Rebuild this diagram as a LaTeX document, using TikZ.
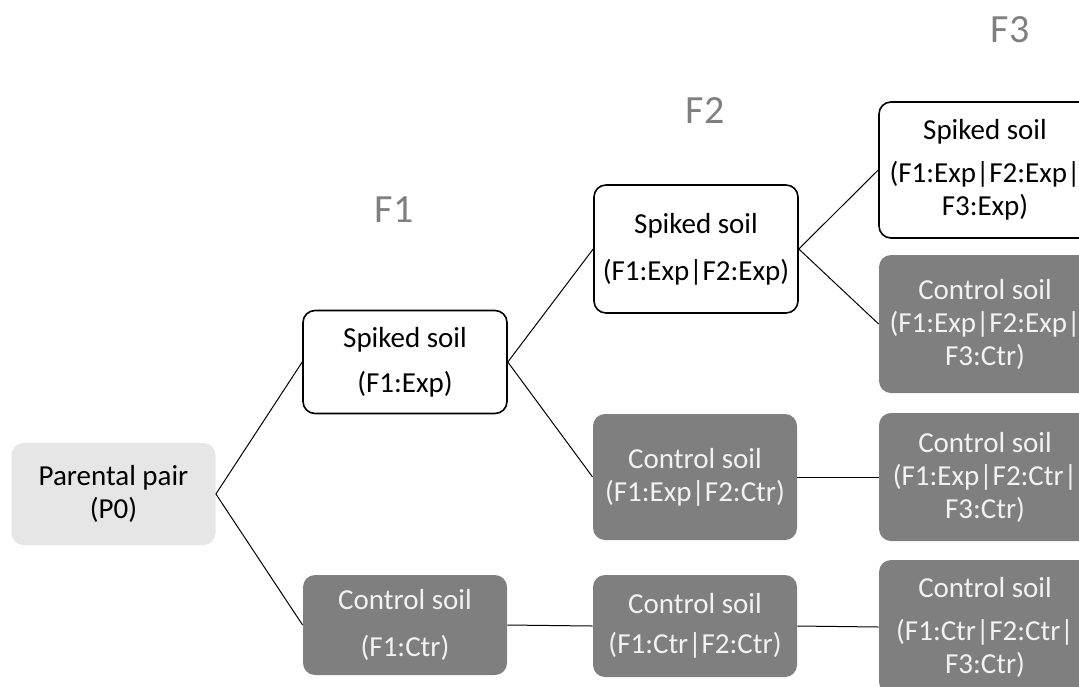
\documentclass[tikz,border=0pt]{standalone}
\usepackage{fontspec}
\setmainfont{Carlito}
\usetikzlibrary{positioning}
\definecolor{darkbox}{HTML}{7F7F7F}
\definecolor{lightbox}{HTML}{E7E6E6}
\definecolor{boxtext}{HTML}{F2F2F2}
\definecolor{gentext}{HTML}{7F7F7F}

\begin{document}
\begin{tikzpicture}[x=0.5pt,y=-0.5pt,
 soil/.style={rounded corners=6pt,align=center,minimum width=102pt,inner sep=2pt,font=\fontsize{14.5}{16.5}\selectfont},
 spiked/.style={soil,draw=black,line width=0.8pt,fill=white},
 control/.style={soil,fill=darkbox,text=boxtext},
 parent/.style={soil,fill=lightbox},
 last/.style={minimum width=106pt},
 gen/.style={text=gentext,inner sep=0pt,font=\fontsize{20}{24}\selectfont},
 link/.style={line width=0.5pt}]
\useasboundingbox (0,0) rectangle (1079,686);
\clip (0,0) rectangle (1079,686);
% generation labels
\node[gen] (g1) at (394,210) {F1};
\node[gen] (g2) at (705,111) {F2};
\node[gen] (g3) at (1010,30) {F3};
% boxes
\node[parent,minimum height=51pt] (p0) at (113.5,494) {Parental pair\\(P0)};
\node[spiked,minimum height=51.5pt] (f1s) at (405,362) {Spiked soil\\[6pt](F1:Exp)};
\node[control,minimum height=50pt] (f1c) at (405,625) {Control soil\\[7pt](F1:Ctr)};
\node[spiked,minimum height=64pt] (f2s) at (696,249) {Spiked soil\\[7pt](F1:Exp|F2:Exp)};
\node[control,minimum height=63pt] (f2e) at (695,477) {Control soil\\(F1:Exp|F2:Ctr)};
\node[control,minimum height=51pt] (f2c) at (695,626) {Control soil\\[3.5pt](F1:Ctr|F2:Ctr)};
\node[spiked,last,minimum height=68pt] (f3s) at (985,170) {Spiked soil\\[5pt](F1:Exp|F2:Exp|\\F3:Exp)};
\node[control,last,minimum height=69pt] (f3a) at (985,324) {Control soil\\(F1:Exp|F2:Exp|\\F3:Ctr)};
\node[control,last,minimum height=64pt] (f3b) at (985,477) {Control soil\\(F1:Exp|F2:Ctr|\\F3:Ctr)};
\node[control,last,minimum height=67pt] (f3c) at (985,627) {Control soil\\[5pt](F1:Ctr|F2:Ctr|\\F3:Ctr)};
% connectors
\draw[link] (p0.east) -- (f1s.west);
\draw[link] (p0.east) -- (f1c.west);
\draw[link] (f1s.east) -- (f2s.west);
\draw[link] (f1s.east) -- (f2e.west);
\draw[link] (f2s.east) -- (f3s.west);
\draw[link] (f2s.east) -- (f3a.west);
\draw[link] (f2e.east) -- (f3b.west);
\draw[link] (f1c.east) -- (f2c.west);
\draw[link] (f2c.east) -- (f3c.west);
\end{tikzpicture}
\end{document}
